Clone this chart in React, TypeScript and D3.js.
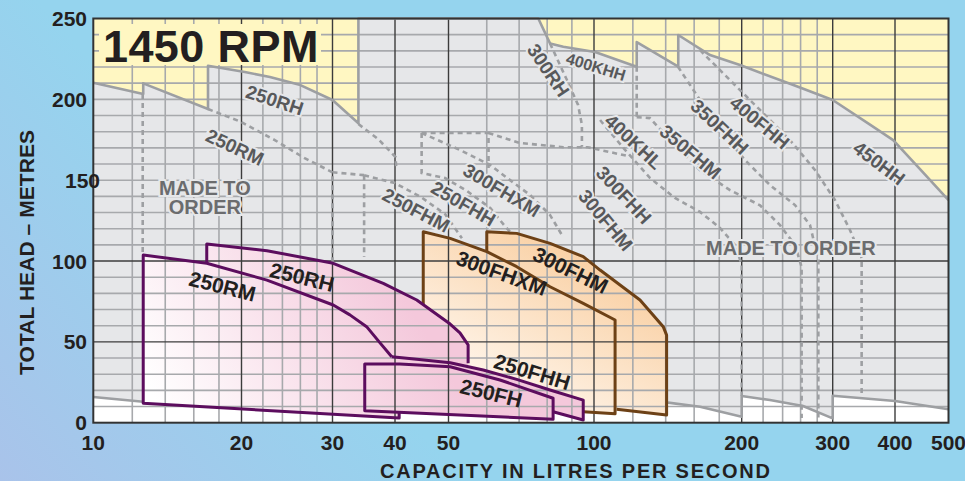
import * as d3 from 'd3';

type P = [number, number];

// ---- axis values ----
const X_LABELS = [10, 20, 30, 40, 50, 100, 200, 300, 400, 500];
const X_MAJOR = [20, 30, 40, 50, 100, 200, 300, 400];
const X_MINOR = [12, 14, 16, 18, 22, 24, 26, 28, 60, 70, 80, 90, 120, 140, 160, 180, 220, 240, 260, 280];
const Y_LABELS = [0, 50, 100, 150, 200, 250];
const Y_MAJOR = [50, 100];
const Y_MINOR = [10, 20, 30, 40, 60, 70, 80, 90, 110, 120, 130, 140, 150, 160, 170, 180, 190, 200, 210, 220, 230, 240];

// ---- coverage envelope (capacity l/s, head m) ----
const ENV_TOP: P[] = [
  [10, 210.3], [12.63, 203.3], [12.63, 209.9], [17.1, 194], [17.1, 220.8], [20.3, 216.9], [22.7, 213.8],
  [26, 208.8], [30, 199.6], [33.8, 185.2], [33.8, 250], [76.7, 250], [81.1, 234.6], [86.4, 232.5],
  [100.5, 229.3], [122.2, 220.2], [122.2, 235.4], [148.5, 220.2], [148.5, 239.8], [172.4, 227.4],
  [198.4, 221.2], [254.8, 208.2], [300, 199.6], [356.4, 184.4], [396.7, 174.8], [444, 156.8], [500, 137.7],
];
const ENV_LOW_LEFT: P[] = [[10, 15.9], [12.63, 13]];
const ENV_LOW_MID: P[] = [[50, 13], [100, 13]];
const ENV_LOW_RIGHT: P[] = [
  [141.5, 12.4], [164.5, 9.9], [200, 3.7], [200, 16.5], [226.8, 14], [262.8, 10.3], [300, 2.7],
  [300, 16.7], [400, 13.4], [500, 8.3],
];

// ---- standard pump ranges ----
const RH250_AREA: P[] = [[17, 110.5], [22.4, 106.4], [30.1, 98.6], [37.9, 86.2], [43.8, 75.9], [50.4, 61], [52.8, 55.5], [54.9, 48.1], [54.9, 36.7], [54.9, 10], [40.7, 10], [17, 12]];
const RH250_EDGE: P[] = [[17, 98.6], [17, 110.5], [22.4, 106.4], [30.1, 98.6], [37.9, 86.2], [43.8, 75.9], [50.4, 61], [52.8, 55.5], [54.9, 48.1], [54.9, 36.7]];
const RM250_AREA: P[] = [[12.63, 103.7], [17, 98.6], [22.4, 88.2], [30.1, 72.8], [32.5, 66.7], [35.1, 59.4], [37.3, 49.5], [39.4, 40.8], [40.7, 40], [40.7, 2.9], [12.63, 12]];
const RM250_EDGE: P[] = [[40.7, 6.4], [40.7, 2.9], [12.63, 12], [12.63, 103.7], [17, 98.6], [22.4, 88.2], [30.1, 72.8], [32.5, 66.7], [35.1, 59.4], [37.3, 49.5], [39.4, 40.8]];
const FHH250_AREA: P[] = [[39.4, 40.8], [43.8, 39.2], [50.4, 37.1], [59, 32.6], [69.2, 26.8], [81.1, 20.2], [95, 14], [95, 1.7], [82.3, 6.8], [39.4, 10.3]];
const FHH250_EDGE: P[] = [[39.4, 40.8], [43.8, 39.2], [50.4, 37.1], [59, 32.6], [69.2, 26.8], [81.1, 20.2], [95, 14], [95, 1.7], [82.3, 6.8]];
const FH250_AREA: P[] = [[34.8, 36.3], [40.8, 36.3], [50.4, 34.6], [63.9, 26.4], [82.3, 15.1], [82.3, 2.1], [34.8, 7.4]];
const FHXM300_AREA: P[] = [[45, 118.1], [50.4, 114], [60, 105.8], [69.2, 96.5], [81.1, 84.1], [95, 73.8], [110.4, 63.5], [110.4, 5.5], [95, 6.8], [45, 11]];
const FHXM300_EDGE: P[] = [[45, 73], [45, 118.1], [50.4, 114], [60, 105.8], [69.2, 96.5], [81.1, 84.1], [95, 73.8], [110.4, 63.5], [110.4, 5.5], [95, 6.8]];
const FHM300_AREA: P[] = [[60, 118.1], [69.2, 117.1], [81.1, 110.9], [95, 102.7], [102.9, 94.4], [124.1, 75.9], [138.4, 59.4], [140.6, 54.2], [140.6, 4.8], [111.2, 8.3], [60, 11]];
const FHM300_EDGE: P[] = [[60, 105.8], [60, 118.1], [69.2, 117.1], [81.1, 110.9], [95, 102.7], [102.9, 94.4], [124.1, 75.9], [138.4, 59.4], [140.6, 54.2], [140.6, 4.8], [111.2, 8.3]];

// ---- made-to-order curves (dashed) ----
const DASHED: P[][] = [
  [[12.6, 203.3], [12.6, 103.6]],
  [[17.1, 194], [19.9, 186.2], [23.2, 174.8], [26.5, 163.6], [30, 154.9], [30, 99]],
  [[30, 154.9], [34.7, 153.1]],
  [[33.8, 184.7], [37, 175.5], [40.1, 164.3], [40.2, 157.5]],
  [[34.7, 153.1], [40, 148.2], [44.6, 139.5], [49.3, 129], [53.3, 114.1]],
  [[34.7, 153.1], [34.7, 102.5]],
  [[44.7, 179.2], [60.5, 179.2], [60.5, 157.6]],
  [[44.7, 179.2], [44.7, 154.4], [49.3, 151.3], [54.6, 143.3], [61, 132.8], [65.4, 121.6], [67.7, 116.7]],
  [[44.7, 179.2], [52.8, 168.7], [61, 159.4], [66.1, 151.4], [73.7, 140.9], [81.1, 128.5], [86.3, 114.9]],
  [[60.5, 179.2], [70.3, 173], [86.4, 170.4], [97, 170.4], [117, 165]],
  [[81.1, 234.6], [87.5, 213.2], [92.7, 196.5], [94.4, 184.2], [94.4, 170.6]],
  [[122.2, 220.2], [122.2, 189]],
  [[102.9, 187.2], [115.7, 168.7], [130, 151.4], [146.2, 139], [164.5, 130.4], [180.6, 120.5], [193.8, 109.9], [200, 97.8], [200, 16.5]],
  [[122.2, 189], [130, 188.4], [146.2, 171.7], [164.5, 156.2], [189.3, 143.8], [217, 134.5], [237.2, 122.2], [253.6, 109.9], [261.2, 96.3], [261.2, 2.9]],
  [[148.3, 220.2], [164.5, 199.6], [180.6, 180.9], [203, 162.4], [226.8, 147], [253.6, 134.6], [271.2, 122.2], [281.4, 100.6], [281.4, 2.9]],
  [[164.5, 230.4], [189.3, 211.9], [217, 193.4], [248, 174.8], [277.2, 156.3], [303.2, 137.7], [324.9, 119.2], [342.9, 101.9], [342.9, 16.5]],
];

// ---- labels: [text, capacity, head, angle] ----
const GRAY_LABELS: [string, number, number, number][] = [
  ['250RH', 23.2, 199.6, 18], ['250RM', 19.4, 170.5, 25], ['250FHM', 43.7, 131.5, 28],
  ['250FHH', 53.7, 135.6, 30], ['300FHXM', 64.4, 143.9, 31], ['300RH', 80.5, 218.1, 56],
  ['400KHL', 120.5, 173.9, 43], ['300FHH', 115.1, 140.8, 47], ['300FHM', 105.7, 125.4, 50],
  ['350FHM', 157.3, 167.6, 40], ['350FHH', 180.5, 183.1, 43], ['400FHH', 216.8, 185.7, 40],
  ['450HH', 372, 160.6, 37],
];
const SMALL_LABELS: [string, number, number, number][] = [['400KHH', 100.9, 220.2, 17]];
const BOX_LABELS: [string, number, number, number][] = [
  ['250RM', 18.3, 84.5, 14], ['250RH', 26.2, 90.1, 14], ['300FHXM', 64.4, 92.6, 20],
  ['300FHM', 89.5, 94.4, 26], ['250FHH', 74.5, 31.5, 17], ['250FH', 61.3, 18.4, 14],
];
const ORDER_LABELS: [string, number, number][] = [
  ['MADE TO', 16.85, 145.5], ['ORDER', 16.85, 133.6], ['MADE TO ORDER', 249, 108.3],
];

const W = 965;
const H = 481;
const x = d3.scaleLog()
  .domain([10, 20, 30, 40, 50, 100, 200, 300, 400, 500])
  .range([93.3, 241.5, 332.5, 395, 448.5, 594, 741.7, 832.7, 895, 948.5]);
const y = d3.scaleLinear().domain([0, 250]).range([422.7, 18.5]);
const line = d3.line<P>().x((d) => x(d[0])).y((d) => y(d[1]));
const area = (pts: P[]) => line(pts) + 'Z';

const PURPLE = '#5c0d5e';
const BROWN = '#6d4116';
const GRAYFILL = '#e6e7e9';
const YELLOW = '#fff7c2';

export default function App() {
  const [x0, x1] = [x(10), x(500)];
  const [yb, yt] = [y(0), y(250)];
  const grayPoly = [...ENV_TOP, ...[...ENV_LOW_RIGHT].reverse(), ...[...ENV_LOW_MID].reverse(), ...[...ENV_LOW_LEFT].reverse()];
  const whitePoly: P[] = [...ENV_LOW_LEFT, ...ENV_LOW_MID, ...ENV_LOW_RIGHT, [500, 0], [10, 0]];

  return (
    <svg width={W} height={H} style={{ position: 'absolute', left: 0, top: 0, display: 'block' }}
      fontFamily="'Liberation Sans', Arial, Helvetica, sans-serif" fontWeight="bold">
      <defs>
        <linearGradient id="bg" gradientUnits="userSpaceOnUse" x1={0} y1={481} x2={260} y2={250}>
          <stop offset="0" stopColor="#a9c3ea" />
          <stop offset="1" stopColor="#95d4ee" />
        </linearGradient>
        <linearGradient id="pink" gradientUnits="userSpaceOnUse" x1={170} y1={425} x2={400} y2={290}>
          <stop offset="0" stopColor="#ffffff" />
          <stop offset="1" stopColor="#f4c8db" />
        </linearGradient>
        <linearGradient id="orange" gradientUnits="userSpaceOnUse" x1={500} y1={420} x2={600} y2={240}>
          <stop offset="0" stopColor="#fffaf4" />
          <stop offset="1" stopColor="#f9cc9c" />
        </linearGradient>
      </defs>
      <rect width={W} height={H} fill="url(#bg)" />

      {/* plot backgrounds */}
      <rect x={x0} y={yt} width={x1 - x0} height={yb - yt} fill={YELLOW} />
      <path d={area(grayPoly)} fill={GRAYFILL} />
      <path d={area(whitePoly)} fill="#ffffff" />

      {/* pump range fills */}
      <path d={area(FHM300_AREA)} fill="url(#orange)" />
      <path d={area(FHXM300_AREA)} fill="url(#orange)" />
      <path d={area(RH250_AREA)} fill="url(#pink)" />
      <path d={area(RM250_AREA)} fill="url(#pink)" />
      <path d={area(FHH250_AREA)} fill="url(#pink)" />
      <path d={area(FH250_AREA)} fill="url(#pink)" />

      {/* grid */}
      <g strokeWidth={1.6} stroke="#a7a9ac">
        {Y_MINOR.map((v) => <line key={'ym' + v} x1={x0} x2={x1} y1={y(v)} y2={y(v)} />)}
        {X_MINOR.map((v) => <line key={'xm' + v} x1={x(v)} x2={x(v)} y1={yb} y2={yt} />)}
      </g>
      <g strokeWidth={1.4} stroke="#3c3c3c">
        {Y_MAJOR.map((v) => <line key={'yM' + v} x1={x0} x2={x1} y1={y(v)} y2={y(v)} />)}
        {X_MAJOR.map((v) => <line key={'xM' + v} x1={x(v)} x2={x(v)} y1={yb} y2={yt} />)}
      </g>

      {/* title box */}
      <rect x={99} y={24} width={222} height={41} fill={YELLOW} />
      <text x={103} y={61.5} fontSize={45} fill="#231f20" letterSpacing={0.4}>1450 RPM</text>

      {/* envelope outline */}
      <g fill="none" stroke="#9d9fa2" strokeWidth={2.6} strokeLinejoin="round">
        <path d={line(ENV_TOP)!} />
        <path d={line(ENV_LOW_LEFT)!} />
        <path d={line(ENV_LOW_RIGHT)!} />
      </g>
      <g fill="none" stroke="#9d9fa2" strokeWidth={2.6} strokeDasharray="5 4">
        {DASHED.map((c, i) => <path key={i} d={line(c)!} />)}
      </g>

      {/* pump range outlines */}
      <g fill="none" strokeWidth={3} strokeLinejoin="round">
        <path d={line(FHM300_EDGE)!} stroke={BROWN} />
        <path d={line(FHXM300_EDGE)!} stroke={BROWN} />
        <path d={line(RH250_EDGE)!} stroke={PURPLE} />
        <path d={line(RM250_EDGE)!} stroke={PURPLE} />
        <path d={line(FHH250_EDGE)!} stroke={PURPLE} />
        <path d={area(FH250_AREA)} stroke={PURPLE} />
      </g>

      {/* labels */}
      <g fill="#58595b" stroke={GRAYFILL} strokeWidth={4} style={{ paintOrder: 'stroke' }} textAnchor="middle" fontSize={19}>
        {GRAY_LABELS.map(([t, q, h, a]) => (
          <text key={t + q} transform={`translate(${x(q)},${y(h)}) rotate(${a})`} dy="0.36em">{t}</text>
        ))}
        {SMALL_LABELS.map(([t, q, h, a]) => (
          <text key={t} fontSize={16} transform={`translate(${x(q)},${y(h)}) rotate(${a})`} dy="0.36em">{t}</text>
        ))}
        {ORDER_LABELS.map(([t, q, h]) => (
          <text key={t} fill="#6b6c6e" fontSize={20} x={x(q)} y={y(h)} dy="0.36em">{t}</text>
        ))}
      </g>
      <g fill="#231f20" textAnchor="middle" fontSize={21}>
        {BOX_LABELS.map(([t, q, h, a]) => (
          <text key={t + q} transform={`translate(${x(q)},${y(h)}) rotate(${a})`} dy="0.36em">{t}</text>
        ))}
      </g>

      {/* frame */}
      <rect x={x0} y={yt} width={x1 - x0} height={yb - yt} fill="none" stroke="#333" strokeWidth={2} />

      {/* axes labels */}
      <g fill="#231f20" fontSize={21}>
        {Y_LABELS.map((v) => (
          <text key={'yl' + v} x={v === 150 ? 100 : 87} y={y(v)} dy="0.36em" textAnchor="end">{v}</text>
        ))}
        {X_LABELS.map((v) => (
          <text key={'xl' + v} x={x(v)} y={450} textAnchor="middle">{v}</text>
        ))}
        <text x={575} y={478} textAnchor="middle" fontSize={20} textLength={390} lengthAdjust="spacing">CAPACITY IN LITRES PER SECOND</text>
        <text transform="translate(33.5,252.5) rotate(-90)" textAnchor="middle" fontSize={21} textLength={245} lengthAdjust="spacing">TOTAL HEAD – METRES</text>
      </g>
    </svg>
  );
}
